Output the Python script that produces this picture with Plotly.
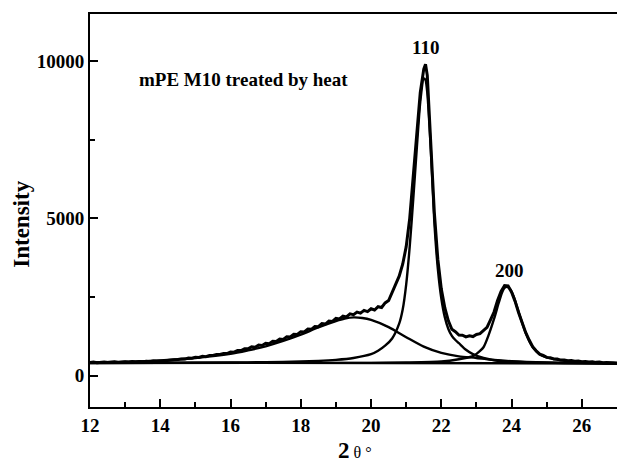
import plotly.graph_objects as go

# ---- data ----
exp_theta = [round(12 + 0.1 * i, 2) for i in range(96)] + [21.55] + [round(21.6 + 0.1 * i, 2) for i in range(55)]
exp_intensity = [
    415, 428, 409, 421, 432, 414, 427, 436, 418, 433,
    438, 424, 444, 430, 449, 437, 455, 443, 463, 452,
    472, 468, 481, 479, 500, 508, 530, 524, 556, 550,
    585, 578, 612, 602, 640, 638, 668, 672, 705, 700,
    752, 745, 800, 798, 855, 850, 915, 900, 968, 955,
    1025, 1012, 1088, 1080, 1158, 1148, 1232, 1225, 1312, 1305,
    1395, 1388, 1480, 1470, 1562, 1555, 1650, 1638, 1732, 1722,
    1818, 1800, 1888, 1865, 1962, 1935, 2020, 1985, 2072, 2035,
    2125, 2085, 2190, 2165, 2310, 2385, 2640, 2860, 3160, 3540,
    4100, 5000, 6300, 7800, 9000, 9750,
    9900,
    9550, 7500, 5200, 3700, 2750, 2150, 1740, 1470, 1395, 1290,
    1285, 1230, 1262, 1240, 1305, 1330, 1440, 1530, 1770, 2020,
    2390, 2680, 2860, 2850, 2650, 2360, 2000, 1670, 1370, 1130,
    915, 790, 682, 640, 578, 570, 528, 525, 492, 498,
    470, 478, 455, 462, 440, 450, 430, 438, 420, 428,
    410, 418, 402, 410, 398,
]

amorph_theta = [12, 13, 14, 15, 16, 16.5, 17, 17.5, 18, 18.5, 19, 19.25, 19.5, 19.75,
                20, 20.5, 21, 21.5, 22, 22.5, 23, 23.5, 24, 25, 26, 27]
amorph_intensity = [420, 440, 480, 560, 690, 800, 930, 1100, 1300, 1530, 1730, 1810, 1850, 1830,
                    1770, 1540, 1220, 920, 720, 610, 560, 495, 455, 415, 395, 380]

p110_theta = [12, 14, 16, 17, 18, 18.5, 19, 19.5, 20, 20.2, 20.4, 20.6, 20.8, 20.9, 21.0, 21.1,
              21.2, 21.3, 21.4, 21.5, 21.55, 21.6, 21.7, 21.8, 21.9, 22.0, 22.1, 22.2, 22.3,
              22.4, 22.5, 22.7, 22.9, 23.2, 23.6, 24, 25, 26, 27]
p110_intensity = [400, 405, 415, 425, 445, 465, 500, 560, 680, 790, 950, 1180, 1650, 2100, 2900, 4100,
                  5600, 7200, 8700, 9450, 9400, 9000, 7200, 4900, 3400, 2450, 1850, 1480, 1260,
                  1130, 1030, 820, 680, 560, 470, 440, 410, 395, 385]

p200_theta = [12, 20, 21, 22, 22.5, 22.9, 23.0, 23.2, 23.35, 23.5, 23.63, 23.72, 23.8, 23.87,
              23.95, 24.05, 24.15, 24.25, 24.4, 24.55, 24.7, 24.85, 25.05, 25.5, 26, 27]
p200_intensity = [400, 405, 415, 445, 520, 620, 690, 900, 1300, 1800, 2300, 2620, 2790, 2820,
                  2760, 2540, 2200, 1850, 1360, 1000, 770, 640, 560, 470, 425, 390]

baseline_theta = [12, 27]
baseline_intensity = [410, 385]

x_ticks = [12, 14, 16, 18, 20, 22, 24, 26]
y_ticks = [0, 5000, 10000]

FONT = "Liberation Serif"

fig = go.Figure()
line_style = dict(color="black", width=2.4)
fig.add_trace(go.Scatter(x=baseline_theta, y=baseline_intensity, mode="lines", line=line_style))
fig.add_trace(go.Scatter(x=amorph_theta, y=amorph_intensity, mode="lines", line=dict(line_style, shape="spline", smoothing=0.8)))
fig.add_trace(go.Scatter(x=p110_theta, y=p110_intensity, mode="lines", line=dict(line_style, shape="spline", smoothing=0.6)))
fig.add_trace(go.Scatter(x=p200_theta, y=p200_intensity, mode="lines", line=dict(line_style, shape="spline", smoothing=0.6)))
fig.add_trace(go.Scatter(x=exp_theta, y=exp_intensity, mode="lines", line=dict(color="black", width=3)))

fig.update_layout(
    width=617, height=470,
    margin=dict(l=90, r=0, t=14, b=63, autoexpand=False),
    paper_bgcolor="white", plot_bgcolor="white",
    showlegend=False,
    font=dict(family=FONT, color="black"),
)

fig.update_xaxes(
    range=[12, 27], tickvals=x_ticks, ticktext=[str(v) for v in x_ticks],
    showgrid=False, zeroline=False, automargin=False,
    showline=True, linecolor="black", linewidth=2, mirror=True,
    ticks="inside", ticklen=8, tickwidth=2, tickcolor="black",
    minor=dict(ticks="inside", ticklen=5, tickwidth=2, tickcolor="black", dtick=1, tick0=12, showgrid=False),
    tickfont=dict(family=FONT, size=19, weight="bold", color="black"),
)
fig.update_yaxes(
    range=[-1000, 11500], tickvals=y_ticks, ticktext=[str(v) for v in y_ticks],
    showgrid=False, zeroline=False, automargin=False,
    showline=True, linecolor="black", linewidth=2,
    ticks="inside", ticklen=8, tickwidth=2, tickcolor="black",
    minor=dict(ticks="inside", ticklen=5, tickwidth=2, tickcolor="black", dtick=2500, tick0=0, showgrid=False),
    tickfont=dict(family=FONT, size=19, weight="bold", color="black"),
)

fig.add_annotation(text="Intensity", xref="paper", yref="paper", x=-0.13, y=0.465,
                   textangle=-90, showarrow=False, xanchor="center", yanchor="middle",
                   font=dict(family=FONT, size=23, weight="bold", color="black"))
fig.add_annotation(text="<b>2</b><span style='font-size:16px'> θ °</span>", xref="paper", yref="paper",
                   x=0.503, y=-0.11, showarrow=False, xanchor="center", yanchor="middle",
                   font=dict(family=FONT, size=23, color="black"))
fig.add_annotation(text="mPE M10 treated by heat", x=13.33, y=9430, xanchor="left", yanchor="middle",
                   showarrow=False, font=dict(family=FONT, size=19, weight="bold", color="black"))
fig.add_annotation(text="110", x=21.55, y=10430, showarrow=False, xanchor="center", yanchor="middle",
                   font=dict(family=FONT, size=19, weight="bold", color="black"))
fig.add_annotation(text="200", x=23.94, y=3330, showarrow=False, xanchor="center", yanchor="middle",
                   font=dict(family=FONT, size=19, weight="bold", color="black"))

fig.write_html("out.html", config={"displayModeBar": False},
               post_script="document.body.style.margin='0';document.body.style.overflow='hidden';")
